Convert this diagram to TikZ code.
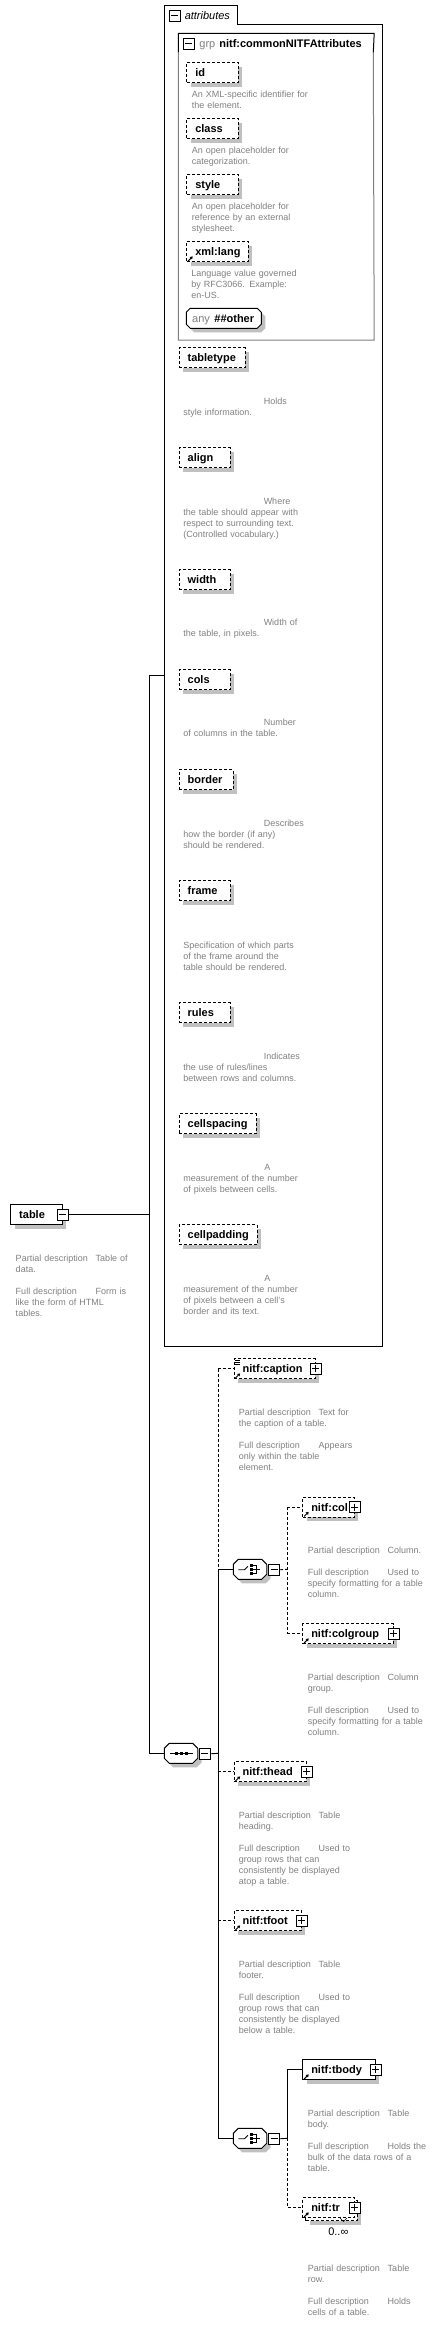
\documentclass[tikz,border=0pt]{standalone}
\usepackage{fontspec}
\setmainfont{Liberation Sans}
\usetikzlibrary{shadows,calc,arrows.meta}
\definecolor{descgray}{RGB}{128,128,128}
\definecolor{shadowgray}{RGB}{192,192,192}
\newcommand\PD[1]{\makebox[80pt][l]{Partial description}#1}
\newcommand\FD[1]{\makebox[80pt][l]{Full description}#1}
\newcommand\myocta[4]{%
 \begin{scope}[shift={(#1.north west)}]
 \fill[shadowgray] (#4+4,4) -- (#2-#4+4,4) -- (#2+4,#4+4) -- (#2+4,#3-#4+4) -- (#2-#4+4,#3+4) -- (#4+4,#3+4) -- (4,#3-#4+4) -- (4,#4+4) -- cycle;
 \draw[fill=white, line width=0.9pt] (#4,0) -- (#2-#4,0) -- (#2,#4) -- (#2,#3-#4) -- (#2-#4,#3) -- (#4,#3) -- (0,#3-#4) -- (0,#4) -- cycle;
 \end{scope}}
\newcommand\refarrow[1]{\draw[line width=1pt,-{Triangle[length=2.6pt,width=3.2pt]}] ($(#1.south west)+(1.8,-1.2)$) -- ++(4.6,-4.6);}
\tikzset{
 shad/.style={drop shadow={shadow xshift=4pt,shadow yshift=-4pt,fill=shadowgray,opacity=1}},
 elbase/.style={draw, fill=white, line width=0.9pt, anchor=north west, inner xsep=8.5pt, inner ysep=0pt,
   minimum height=20pt, text height=9pt, text depth=1pt, font=\fontsize{11}{13}\selectfont\bfseries,
   align=left, minimum width=#1pt, text width=#1pt-17pt},
 dsh/.style={dash pattern=on 3pt off 2pt},
 opt/.style={elbase=#1, dsh, shad},
 req/.style={elbase=#1, shad},
 desc/.style={anchor=base west, inner sep=0pt, text width=170pt, align=left, font=\fontsize{9}{11}\selectfont, text=descgray},
 btn/.style={draw, fill=white, line width=1pt, minimum size=11pt, inner sep=0pt},
 bminus/.style={btn, path picture={\draw[line width=1pt] ([xshift=2pt]path picture bounding box.west) -- ([xshift=-2pt]path picture bounding box.east);}},
 bplus/.style={btn, path picture={\draw[line width=1pt] ([xshift=2pt]path picture bounding box.west) -- ([xshift=-2pt]path picture bounding box.east) ([yshift=-2pt]path picture bounding box.north) -- ([yshift=2pt]path picture bounding box.south);}},
 comp/.style={anchor=north west, minimum width=33.4pt, minimum height=20pt, inner sep=0pt},
 choicesym/.pic={
  \draw[line width=0.8pt] (-12,0) -- (-6,0) -- (-2.5,-3.5);
  \fill (-0.5,-5.3) rectangle (2.2,-2.7);
  \fill (-0.5,-1.3) rectangle (2.2,1.3);
  \fill (-0.5,2.7) rectangle (2.2,5.3);
  \draw[line width=0.8pt] (2.2,-4) -- (5.5,-4) -- (5.5,4) -- (2.2,4) (2.2,0) -- (10,0);
 },
 seqsym/.pic={
  \draw[line width=0.8pt] (-11.5,0) -- (11.5,0);
  \fill (-6.5,-1.4) rectangle (-3.5,1.4);
  \fill (-1.5,-1.4) rectangle (1.5,1.4);
  \fill (3.5,-1.4) rectangle (6.5,1.4);
 }
}
\begin{document}
\begin{tikzpicture}[x=1pt,y=-1pt,line width=0.9pt]
\useasboundingbox (0,0) rectangle (437,2334);

% ---------- attributes container
\node[anchor=north west, minimum width=217pt, minimum height=1321pt, inner sep=0pt] (attrs) at (164.3,24.3) {};
\draw[line width=1pt] (attrs.south west) -- (164.3,5.3) -- (237.3,5.3) -- (237.3,24.3) -- (attrs.north east) -- (attrs.south east) -- cycle;
\node[bminus] (attrm) at (174.5,15.5) {};
\node[anchor=base west, inner sep=0pt, font=\fontsize{11}{13}\selectfont\itshape] (attrl) at (184.3,19.3) {attributes};

% ---------- group
\node[anchor=north west, minimum width=195pt, minimum height=306pt, inner sep=0pt] (grp) at (178.3,33.3) {};
\draw[line width=1pt] (178.3,52.7) -- (grp.north west) -- (grp.north east) -- (373.3,52.7);
\draw[line width=1pt, draw=gray] (178.3,52.7) -- (grp.south west) -- (grp.south east) -- (373.3,52.7);
\node[bminus] (grpm) at (188.5,43.5) {};
\node[anchor=base west, inner sep=0pt, font=\fontsize{11}{13}\selectfont] (grpl) at (199,47.3) {\textcolor{descgray}{grp}\hspace{4pt}\textbf{nitf:commonNITFAttributes}};

\node[opt=51.7] (id) at (186.3,62.3) {id};
\node[desc] (did) at (191.5,97.2) {An XML-specific identifier for\\the element.};
\node[opt=51.7] (class) at (186.3,118.3) {class};
\node[desc] (dclass) at (191.5,153.2) {An open placeholder for\\categorization.};
\node[opt=51.7] (style) at (186.3,174.3) {style};
\node[desc] (dstyle) at (191.5,209.2) {An open placeholder for\\reference by an external\\stylesheet.};
\node[opt=61.7] (lang) at (186.3,241.3) {xml:lang};
\refarrow{lang}
\node[desc] (dlang) at (191,276.2) {Language value governed\\by RFC3066. Example:\\en-US.};
\node[comp, minimum width=75pt] (any) at (186.3,308.3) {};
\myocta{any}{75}{20}{4}
\node[anchor=base west, inner sep=0pt, font=\fontsize{11}{13}\selectfont] (anyl) at (191.7,322.4) {\textcolor{descgray}{any}\hspace{4.5pt}\textbf{\#\#other}};

% ---------- attributes
\node[opt=66] (tabletype) at (178.7,347.3) {tabletype};
\node[desc] (dtabletype) at (183,404.2) {\hspace*{80.3pt}Holds\\style information.};
\node[opt=51] (align) at (178.7,447.3) {align};
\node[desc] (dalign) at (183,504.2) {\hspace*{80.3pt}Where\\the table should appear with\\respect to surrounding text.\\(Controlled vocabulary.)};
\node[opt=51] (width) at (178.7,569.3) {width};
\node[desc] (dwidth) at (183,625.8) {\hspace*{80.3pt}Width of\\the table, in pixels.};
\node[opt=51] (cols) at (178.7,669.3) {cols};
\node[desc] (dcols) at (183,725.8) {\hspace*{80.3pt}Number\\of columns in the table.};
\node[opt=54] (border) at (178.7,769.3) {border};
\node[desc] (dborder) at (183,826.2) {\hspace*{80.3pt}Describes\\how the border (if any)\\should be rendered.};
\node[opt=51] (frame) at (178.7,880.3) {frame};
\node[desc] (dframe) at (183,937.2) {\mbox{}\\Specification of which parts\\of the frame around the\\table should be rendered.};
\node[opt=51] (rules) at (178.7,1002.3) {rules};
\node[desc] (drules) at (183,1059.2) {\hspace*{80.3pt}Indicates\\the use of rules/lines\\between rows and columns.};
\node[opt=77] (cellspacing) at (178.7,1113.3) {cellspacing};
\node[desc] (dcellspacing) at (183,1170.2) {\hspace*{81pt}A\\measurement of the number\\of pixels between cells.};
\node[opt=78] (cellpadding) at (178.7,1224.3) {cellpadding};
\node[desc] (dcellpadding) at (183,1281.2) {\hspace*{81pt}A\\measurement of the number\\of pixels between a cell's\\border and its text.};

% ---------- table
\node[req=51.4] (tbl) at (10.3,1204.3) {table};
\node[bminus] (tblm) at (tbl.east) {};
\node[desc] (dtbl) at (15.3,1261.2) {\PD{Table of}\\data.\\[11pt]\FD{Form is}\\like the form of HTML\\tables.};

% ---------- sequence
\node[comp] (seq) at (164.3,1743.3) {};
\myocta{seq}{33.4}{20}{5}
\pic at (seq.center) {seqsym};
\node[bminus] (seqm) at ($(seq.east)+(6.3,0)$) {};

% ---------- caption
\node[opt=81] (cap) at (233.7,1358.3) {nitf:caption};
\node[bplus] (capp) at (cap.east) {};
\refarrow{cap}
\foreach \dy in {2,4,6} \draw[line width=0.7pt] ($(cap.north west)+(1.5,\dy)$) -- ++(5,0);
\node[desc] (dcap) at (238.3,1415.2) {\PD{Text for}\\the caption of a table.\\[11pt]\FD{Appears}\\only within the table\\element.};

% ---------- choice 1
\node[comp] (ch1) at (233.3,1559.3) {};
\myocta{ch1}{33.4}{20}{5}
\pic at (ch1.center) {choicesym};
\node[bminus] (ch1m) at ($(ch1.east)+(6.5,0)$) {};

\node[opt=51.7] (col) at (302.3,1496.7) {nitf:col};
\node[bplus] (colp) at (col.east) {};
\refarrow{col}
\node[desc] (dcol) at (307.3,1553.2) {\PD{Column.}\\[11pt]\FD{Used to}\\specify formatting for a table\\column.};
\node[opt=90.4] (colg) at (302.3,1623.3) {nitf:colgroup};
\node[bplus] (colgp) at (colg.east) {};
\refarrow{colg}
\node[desc] (dcolg) at (307.3,1680.2) {\PD{Column}\\group.\\[11pt]\FD{Used to}\\specify formatting for a table\\column.};

% ---------- thead / tfoot
\node[opt=72.3] (thead) at (233.7,1761.3) {nitf:thead};
\node[bplus] (theadp) at (thead.east) {};
\refarrow{thead}
\node[desc] (dthead) at (238.3,1818.2) {\PD{Table}\\heading.\\[11pt]\FD{Used to}\\group rows that can\\consistently be displayed\\atop a table.};
\node[opt=67.3] (tfoot) at (233.7,1910.3) {nitf:tfoot};
\node[bplus] (tfootp) at (tfoot.east) {};
\refarrow{tfoot}
\node[desc] (dtfoot) at (238.3,1967.2) {\PD{Table}\\footer.\\[11pt]\FD{Used to}\\group rows that can\\consistently be displayed\\below a table.};

% ---------- choice 2
\node[comp] (ch2) at (233.3,2128.3) {};
\myocta{ch2}{33.4}{20}{5}
\pic at (ch2.center) {choicesym};
\node[bminus] (ch2m) at ($(ch2.east)+(6.5,0)$) {};

\node[req=72.4] (tbody) at (302.3,2059.3) {nitf:tbody};
\node[bplus] (tbodyp) at (tbody.east) {};
\refarrow{tbody}
\node[desc] (dtbody) at (307.3,2116.2) {\PD{Table}\\body.\\[11pt]\FD{Holds the}\\bulk of the data rows of a\\table.};

\node[elbase=51.5, dsh, shad] (trb) at (305.3,2200.3) {};
\node[elbase=51.5, dsh] (tr) at (302.3,2197.3) {nitf:tr};
\node[bplus] (trp) at (tr.east) {};
\refarrow{tr}
\draw[line width=0.6pt] (340,2218) -- (343.5,2221.5) -- (347,2218);
\node[anchor=base, inner sep=0pt, font=\fontsize{11}{13}\selectfont] (trocc) at (338.3,2235) {0..∞};
\node[desc] (dtr) at (307.3,2271.2) {\PD{Table}\\row.\\[11pt]\FD{Holds}\\cells of a table.};

% ---------- connectors
\coordinate (j1) at (149.3,675);
\draw (tblm.east) -| (j1) -- (j1 -| attrs.west);
\draw (j1) |- (seq.west);
\coordinate (j2) at (218.3,1753.3);
\draw (seqm.east) -- (j2);
\draw[dsh] (j2 |- cap.west) -- (cap.west);
\draw[dsh] (j2 |- cap.west) -- (j2 |- ch1.west);
\draw (j2 |- ch1.west) -- (ch1.west);
\draw (j2 |- ch1.west) -- (j2 |- ch2.west) -- (ch2.west);
\draw[dsh] (j2 |- thead.west) -- (thead.west);
\draw[dsh] (j2 |- tfoot.west) -- (tfoot.west);
\coordinate (j3) at (287.3,1569.3);
\draw[dsh] (ch1m.east) -- (j3);
\draw[dsh] (j3 |- col.west) -- (j3 |- colg.west);
\draw[dsh] (j3 |- col.west) -- (col.west);
\draw[dsh] (j3 |- colg.west) -- (colg.west);
\coordinate (j4) at (287.3,2138.3);
\draw (ch2m.east) -- (j4);
\draw (j4) |- (tbody.west);
\draw[dsh] (j4) |- (tr.west);
\end{tikzpicture}
\end{document}
